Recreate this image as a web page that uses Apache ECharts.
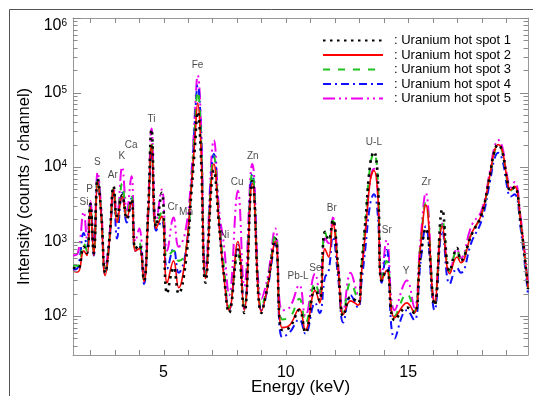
<!DOCTYPE html>
<html>
<head>
<meta charset="utf-8">
<script src="https://cdn.jsdelivr.net/npm/echarts@6/dist/echarts.min.js"></script>
<style>html,body{margin:0;padding:0;background:#fff}#c{width:533px;height:396px}</style>
</head>
<body>
<div id="c"></div>
<script>
// Energy grid (keV)
const energy = [1.30,1.50,1.74,1.87,2.01,2.15,2.31,2.45,2.62,2.80,2.96,3.10,3.31,3.50,3.69,3.85,4.01,4.20,4.38,4.51,4.70,4.93,5.15,5.41,5.62,5.90,6.15,6.28,6.40,6.52,6.72,7.06,7.28,7.47,7.68,8.04,8.30,8.63,9.00,9.25,9.57,9.85,10.15,10.55,10.80,11.20,11.38,11.60,11.75,11.92,12.15,12.35,12.65,12.95,13.10,13.25,13.45,13.60,13.75,13.92,14.12,14.45,14.95,15.25,15.50,15.72,16.08,16.40,16.70,17.00,17.15,17.60,18.00,18.35,18.52,18.68,18.85,19.05,19.18,19.35,19.60,19.90];
const spot1 = [450,430,850,700,3200,700,7000,2500,380,1200,5500,2200,4200,2000,3700,800,900,300,3000,32000,1600,4500,200,450,200,500,5000,18000,55000,17000,280,9000,1500,350,110,780,110,6500,110,250,1100,65,70,120,60,240,160,1350,1050,1950,400,100,180,150,500,1800,11000,16000,8000,300,420,88,130,110,600,1500,140,2700,400,820,560,1250,2300,8000,16000,20000,16000,6500,4800,5400,1800,230];
const spot2 = [400,390,750,650,2900,650,6500,2300,350,1100,5000,1800,4000,2100,3500,750,800,290,2500,20000,1500,2200,280,550,240,650,6000,23000,72000,22000,320,11000,1600,330,120,1000,120,6000,115,240,1000,70,75,125,65,220,150,800,620,1750,380,105,160,140,400,1300,6500,9000,4800,300,410,95,150,110,800,3100,150,1600,370,620,520,1300,2300,8000,16000,20000,16500,6800,4900,5500,1850,240];
const spot3 = [480,470,950,750,3000,700,6800,2500,380,1200,5200,1800,6000,2200,4000,800,950,300,2800,22000,1600,2500,600,750,550,700,6500,33000,105000,32000,350,14000,1800,450,130,700,130,8300,130,260,1200,90,95,170,80,280,180,1350,1000,1900,420,110,280,170,500,1750,10500,15500,7800,320,550,100,200,115,900,3300,150,1950,400,780,560,1300,2300,8000,15500,19500,16000,6500,4800,5400,1800,230];
const spot4 = [420,450,1300,850,3100,650,6800,2400,360,1100,4800,1100,4500,1800,3800,750,850,270,2500,18000,1400,1900,430,800,380,700,6500,40000,125000,38000,340,15000,1700,380,120,900,125,8000,120,230,950,52,60,90,58,150,110,330,400,1150,300,82,190,130,300,800,3200,4300,2500,280,770,50,120,88,500,1600,120,1400,270,440,380,1000,1900,6500,12500,15500,12500,5400,4000,4300,1500,190];
const spot5 = [650,700,2500,1100,3500,800,8500,3000,450,1300,5200,2200,10000,2600,7500,1000,1500,330,3500,33000,1800,5000,750,2100,850,1400,9000,52000,170000,50000,450,23000,2500,900,190,4800,250,11000,170,320,1500,120,130,260,100,370,200,1100,950,2100,450,120,380,200,420,1300,6800,9500,5000,330,1050,120,300,130,1000,4500,160,1750,380,800,600,1650,2600,9000,18000,23000,18500,7500,5300,6300,2100,270];
const seriesNames = ['Uranium hot spot 1','Uranium hot spot 2','Uranium hot spot 3','Uranium hot spot 4','Uranium hot spot 5'];
// Element annotations: name, energy, intensity at label position
const elemNames = ['Si','P','S','Ar','K','Ca','Ti','Cr','Mn','Fe','Ni','Cu','Zn','Pb-L','Se','Br','U-L','Sr','Y','Zr'];
const elemEnergy = [1.75,1.98,2.29,2.93,3.30,3.68,4.51,5.38,5.92,6.39,7.49,8.01,8.65,10.50,11.21,11.88,13.60,14.13,14.92,15.74];
const elemLevel = [3400,5000,11700,7800,13800,19900,44000,2900,2450,229000,1230,6300,14100,337,437,2800,21200,1420,400,6200];
// Axis ticks
const xTicks = [2,3,4,5,6,7,8,9,10,11,12,13,14,15,16,17,18,19];
const xLabels = [5,10,15];
const yMajor = [100,1000,10000,100000,1000000];
const yMinor = [40,50,60,70,80,90,200,300,400,500,600,700,800,900,2000,3000,4000,5000,6000,7000,8000,9000,20000,30000,40000,50000,60000,70000,80000,90000,200000,300000,400000,500000,600000,700000,800000,900000];

const X_MIN = 1.3, X_MAX = 19.9, Y_MIN = 30, Y_MAX = 1000000;
const axisGray = '#999999';
const tickGray = '#8a8a8a';
const font = 'Liberation Sans, Arial, sans-serif';

const colors = ['#000000','#ff0000','#1fc41f','#1010ff','#ee00ee'];
const dashes = [[2.5,4.5],'solid',[7,8],[8,4,2,4],[12,4,2,4,2,4]];
const widths = [2.6,1.6,2,2,2];
const zs = [7,6,5,4,3];
const spots = [spot1,spot2,spot3,spot4,spot5];

const series = spots.map((s,k)=>({
  name: seriesNames[k], type:'line', xAxisIndex:0, yAxisIndex:0,
  data: energy.map((e,i)=>[e,s[i]]),
  smooth: 0.45, symbol:'none', showSymbol:false, z: zs[k],
  lineStyle:{color:colors[k], width:widths[k], type:dashes[k]},
  itemStyle:{color:colors[k]}, animation:false
}));
series.push({
  type:'scatter', xAxisIndex:0, yAxisIndex:0, symbolSize:0, z:10, silent:true,
  data: elemNames.map((n,i)=>({value:[elemEnergy[i],elemLevel[i]], name:n})),
  label:{show:true, position:'inside', formatter:'{b}', color:'#1a1a1a', fontSize:10, fontFamily:font},
  animation:false
});
const tickStyle = {stroke:tickGray, lineWidth:1};
// x ticks (bottom and top), positioned through the x scale
series.push({
  type:'custom', xAxisIndex:0, yAxisIndex:0, silent:true, z:20, clip:false,
  data: xTicks.map(v=>[v, Y_MIN]),
  renderItem: function(params, api){
    const p = api.coord([api.value(0), Y_MIN]);
    const cs = params.coordSys;
    const x = Math.round(p[0]) + 0.5;
    const yb = cs.y + cs.height, yt = cs.y;
    return {type:'group', children:[
      {type:'line', shape:{x1:x, y1:yb, x2:x, y2:yb-5}, style:tickStyle},
      {type:'line', shape:{x1:x, y1:yt, x2:x, y2:yt+5}, style:tickStyle}
    ]};
  },
  animation:false
});
// y ticks (left and right), major and minor, positioned through the log y scale
series.push({
  type:'custom', xAxisIndex:0, yAxisIndex:0, silent:true, z:20, clip:false,
  data: yMajor.map(v=>[X_MIN, v, 8]).concat(yMinor.map(v=>[X_MIN, v, 4.5])),
  renderItem: function(params, api){
    const p = api.coord([X_MIN, api.value(1)]);
    const len = api.value(2);
    const cs = params.coordSys;
    const y = Math.round(p[1]) + 0.5;
    return {type:'group', children:[
      {type:'line', shape:{x1:cs.x, y1:y, x2:cs.x+len, y2:y}, style:tickStyle},
      {type:'line', shape:{x1:cs.x+cs.width-len, y1:y, x2:cs.x+cs.width, y2:y}, style:tickStyle}
    ]};
  },
  animation:false
});

function yLab(v){
  const e = Math.round(Math.log10(v));
  if (Math.abs(Math.pow(10,e)-v) > 1e-6*v) return '';
  return '{a|10}{s|' + e + '}';
}
const yRich = {
  a:{fontSize:16, lineHeight:15, fontFamily:font, color:'#000'},
  s:{fontSize:10, lineHeight:15, verticalAlign:'top', fontFamily:font, color:'#000'}
};

const chart = echarts.init(document.getElementById('c'), null, {renderer:'canvas'});
chart.setOption({
  animation:false,
  backgroundColor:'#fff',
  grid:{left:73, right:5, top:18, bottom:41, outerBoundsMode:'none', containLabel:false},
  graphic:[{type:'rect', shape:{x:9.5,y:9.5,width:700,height:700}, style:{fill:'none', stroke:'#555', lineWidth:1}, silent:true}],
  legend:{
    orient:'vertical', left:322, top:34, padding:0, itemWidth:60, itemHeight:14, itemGap:1.5,
    data: seriesNames, formatter: n=>': '+n,
    itemStyle:{opacity:0},
    textStyle:{fontSize:13, color:'#000', fontFamily:font, padding:[0,0,0,6]}
  },
  xAxis:[
    {type:'value', min:X_MIN, max:X_MAX, position:'bottom',
     name:'Energy (keV)', nameLocation:'middle', nameGap:24, nameMoveOverlap:false,
     nameTextStyle:{fontSize:17, color:'#000', fontFamily:font},
     axisLine:{show:true, lineStyle:{color:axisGray}},
     axisTick:{show:false},
     axisLabel:{show:true, customValues:xLabels, fontSize:16, color:'#000', fontFamily:font, margin:10},
     splitLine:{show:false}},
    {type:'value', min:X_MIN, max:X_MAX, position:'top',
     axisLine:{show:true, lineStyle:{color:axisGray}},
     axisTick:{show:false},
     axisLabel:{show:false}, splitLine:{show:false}}
  ],
  yAxis:[
    {type:'log', min:Y_MIN, max:Y_MAX, position:'left',
     name:'Intensity (counts / channel)', nameLocation:'middle', nameGap:40, nameRotate:90, nameMoveOverlap:false,
     nameTextStyle:{fontSize:16.5, color:'#000', fontFamily:font},
     axisLine:{show:true, lineStyle:{color:axisGray}},
     axisTick:{show:false},
     axisLabel:{show:true, formatter:yLab, rich:yRich, fontSize:16, color:'#000', fontFamily:font, margin:6,
                verticalAlignMaxLabel:'top'},
     splitLine:{show:false}},
    {type:'log', min:Y_MIN, max:Y_MAX, position:'right',
     axisLine:{show:true, lineStyle:{color:axisGray}},
     axisTick:{show:false},
     axisLabel:{show:false}, splitLine:{show:false}}
  ],
  series: series
});
</script>
</body>
</html>
